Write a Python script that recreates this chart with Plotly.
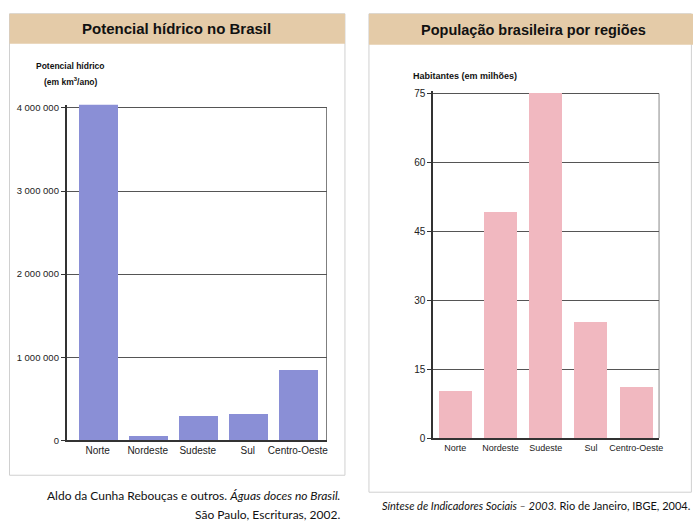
import plotly.graph_objects as go

W, H = 697, 524

regions = ["Norte", "Nordeste", "Sudeste", "Sul", "Centro-Oeste"]
potencial_hidrico = [4050000, 55000, 300000, 320000, 850000]
populacao = [10.4, 49.3, 75.2, 25.4, 11.3]

pot_tickvals = [0, 1000000, 2000000, 3000000, 4000000]
pot_ticktext = ["0", "1 000 000", "2 000 000", "3 000 000", "4 000 000"]
pop_tickvals = [0, 15, 30, 45, 60, 75]
pop_ticktext = ["0", "15", "30", "45", "60", "75"]

title_left = "Potencial hídrico no Brasil"
title_right = "População brasileira por regiões"
ytitle_left_1 = "Potencial hídrico"
ytitle_left_2 = "(em km<sup>3</sup>/ano)"
ytitle_right = "Habitantes (em milhões)"
cap_left_1 = "Aldo da Cunha Rebouças e outros. <i>Águas doces no Brasil.</i>"
cap_left_2 = "São Paulo, Escrituras, 2002."
cap_right = "<i>Síntese de Indicadores Sociais – 2003.</i> Rio de Janeiro, IBGE, 2004."

SANS = "Liberation Sans, Arial, sans-serif"
HUM = "Lato, Open Sans, sans-serif"
BAR_L = "#8a8fd6"
BAR_R = "#f1b8c0"
TAN = "#e4cba8"
AX = "#333333"

def px(x):
    return min(1.0, max(0.0, (x - 0.5) / 0.993 / W))

def py(y):
    return min(1.0, max(0.0, 1 - ((y - 2.2) / 0.984) / H))

fig = go.Figure()
fig.add_trace(go.Bar(x=regions, y=potencial_hidrico, marker_color=BAR_L,
                     marker_line_width=0, width=0.78, xaxis="x", yaxis="y",
                     showlegend=False, hoverinfo="skip"))
fig.add_trace(go.Bar(x=regions, y=populacao, marker_color=BAR_R,
                     marker_line_width=0, width=0.73, xaxis="x2", yaxis="y2",
                     showlegend=False, hoverinfo="skip"))

common_x = dict(type="category", showgrid=False, showline=True, linecolor=AX,
                linewidth=2, ticks="", fixedrange=True)
common_y = dict(showgrid=True, gridcolor="#555555", gridwidth=1, showline=True,
                linecolor=AX, linewidth=1.5, ticks="outside", ticklen=4,
                tickcolor=AX, zeroline=False, ticklabelstandoff=0, fixedrange=True)

fig.update_layout(
    width=W, height=H,
    margin=dict(l=0, r=0, t=0, b=0),
    paper_bgcolor="white", plot_bgcolor="rgba(0,0,0,0)",
    bargap=0,
    xaxis=dict(domain=[px(67), px(327)], range=[-0.62, 4.58], anchor="y",
               tickfont=dict(family=SANS, size=10, color="#222"), **common_x),
    yaxis=dict(domain=[py(440), py(104)], range=[0, 4040000], anchor="x",
               tickvals=pot_tickvals, ticktext=pot_ticktext,
               tickfont=dict(family=SANS, size=9.5, color="#222"), **common_y),
    xaxis2=dict(domain=[px(433), px(659)], range=[-0.49, 4.51], anchor="y2",
                tickfont=dict(family=SANS, size=9, color="#222"), **common_x),
    yaxis2=dict(domain=[py(438), py(90)], range=[0, 75.6], anchor="x2",
                tickvals=pop_tickvals, ticktext=pop_ticktext,
                tickfont=dict(family=SANS, size=10, color="#222"), **common_y),
)

shapes = [
    dict(type="rect", xref="paper", yref="paper", x0=px(10), x1=px(345), y0=py(475), y1=py(13),
         line=dict(color="#d0d0d0", width=1), fillcolor="rgba(0,0,0,0)", layer="below"),
    dict(type="rect", xref="paper", yref="paper", x0=px(369), x1=px(691), y0=py(492), y1=py(13),
         line=dict(color="#d0d0d0", width=1), fillcolor="rgba(0,0,0,0)", layer="below"),
    dict(type="rect", xref="paper", yref="paper", x0=px(10), x1=px(345), y0=py(43), y1=py(13),
         line=dict(width=0), fillcolor=TAN, layer="below"),
    dict(type="rect", xref="paper", yref="paper", x0=px(369), x1=px(693), y0=py(44), y1=py(13),
         line=dict(width=0), fillcolor=TAN, layer="below"),
    dict(type="line", xref="x", yref="y", x0=4.58, x1=4.58, y0=0, y1=4000000,
         line=dict(color=AX, width=1.2), layer="below"),
    dict(type="line", xref="x2", yref="y2", x0=4.51, x1=4.51, y0=0, y1=75,
         line=dict(color=AX, width=1.2), layer="below"),
]
fig.update_layout(shapes=shapes)

ann = [
    dict(text="<b>" + title_left + "</b>", x=px(177), y=py(28),
         font=dict(family=SANS, size=15, color="#111")),
    dict(text="<b>" + title_right + "</b>", x=px(533), y=py(29),
         font=dict(family=SANS, size=14.5, color="#111")),
    dict(text="<b>" + ytitle_left_1 + "</b>", x=px(71), y=py(65),
         font=dict(family=SANS, size=8.5, color="#111")),
    dict(text="<b>" + ytitle_left_2 + "</b>", x=px(71), y=py(81),
         font=dict(family=SANS, size=8.5, color="#111")),
    dict(text="<b>" + ytitle_right + "</b>", x=px(465), y=py(75),
         font=dict(family=SANS, size=9, color="#111")),
    dict(text=cap_left_1, x=px(342), y=py(495), xanchor="right",
         font=dict(family=HUM, size=12, color="#111")),
    dict(text=cap_left_2, x=px(342), y=py(514), xanchor="right",
         font=dict(family=HUM, size=12, color="#111")),
    dict(text=cap_right, x=px(692), y=py(505), xanchor="right",
         font=dict(family=HUM, size=11, color="#111")),
]
for a in ann:
    a.setdefault("xanchor", "center")
    a.update(xref="paper", yref="paper", yanchor="middle", showarrow=False)
fig.update_layout(annotations=ann)

fig.write_html("out.html", config={"displayModeBar": False},
               post_script="document.body.style.margin='0';document.body.style.overflow='hidden';")
